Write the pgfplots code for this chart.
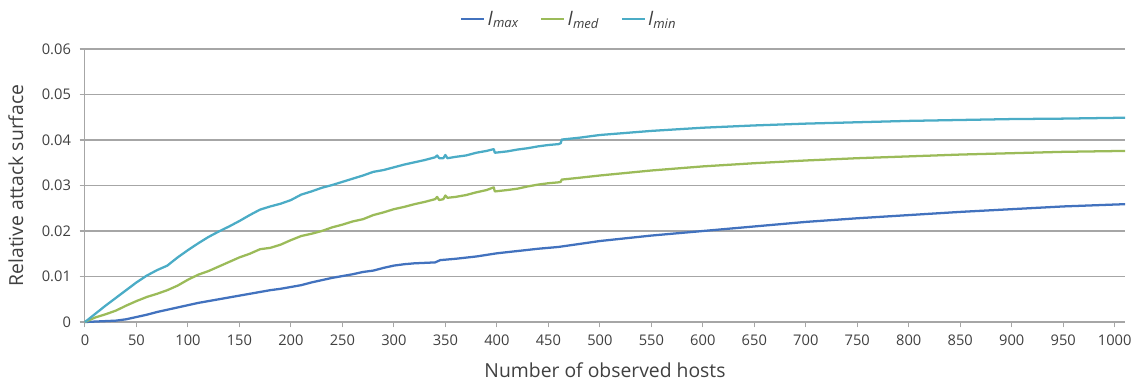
\documentclass[border=0pt]{standalone}
\usepackage{pgfplots}
\pgfplotsset{compat=1.18}
\usepackage{fontspec}
\setmainfont{Open Sans}
\definecolor{cmax}{HTML}{4272BE}
\definecolor{cmed}{HTML}{9BBB59}
\definecolor{cmin}{HTML}{4BACC6}
\definecolor{gridc}{HTML}{A6A6A6}
\definecolor{txt}{HTML}{404040}
\begin{document}
\begin{tikzpicture}
\begin{axis}[
  name=ax,
  scale only axis,
  width=780pt, height=204.75pt,
  xmin=0, xmax=1010, ymin=0, ymax=0.06,
  xtick={0,50,...,1000},
  ytick={0,0.01,...,0.06},
  yticklabels={0,0.01,0.02,0.03,0.04,0.05,0.06},
  scaled y ticks=false,
  /pgf/number format/assume math mode=true,
  /pgf/number format/set thousands separator={},
  axis x line*=bottom, axis y line*=left,
  axis line style={gridc, line width=0.8pt, -},
  ymajorgrids, major grid style={gridc, line width=0.8pt},
  tick style={gridc, line width=0.8pt},
  xtick align=outside, ytick align=outside,
  major tick length=4pt,
  ticklabel style={font=\fontsize{11}{13}\selectfont, text=txt},
  yticklabel style={xshift=-3pt},
  xticklabel style={yshift=-2pt},
  xlabel={Number of observed hosts},
  ylabel={Relative attack surface},
  label style={font=\fontsize{14.5}{16}\selectfont, text=txt},
  xlabel style={yshift=-6pt},
  ylabel style={yshift=7pt},
  legend style={at={(0.466,1.11)}, anchor=center, draw=none, fill=none,
    legend columns=3, font=\fontsize{14}{16}\selectfont, text=txt,
    /tikz/every even column/.append style={column sep=14pt}},
  legend cell align=left,
  legend image post style={line width=1.6pt},
  clip=false,
  every axis plot/.append style={line width=1.7pt, line join=round},
]
\addplot[cmax, no marks] coordinates {
(0,0) (10,0.0001) (20,0.0002) (30,0.0003) (40,0.0006) (50,0.0011) (60,0.0016) (70,0.0022) (80,0.0027) (90,0.0032) (100,0.0037) (110,0.0042) (120,0.0046) (130,0.0050) (140,0.0054) (150,0.0058) (160,0.0062) (170,0.0066) (180,0.0070) (190,0.0073) (200,0.0077) (210,0.0081) (220,0.0087) (230,0.0092) (240,0.0097) (250,0.0101) (260,0.0105) (270,0.0110) (280,0.0113) (290,0.0119) (300,0.0124) (310,0.0127) (320,0.0129) (330,0.0130) (340,0.0131) (345,0.0136) (360,0.0139) (380,0.0144) (400,0.0151) (420,0.0156) (440,0.0161) (460,0.0165) (500,0.0178) (550,0.0190) (600,0.0200) (650,0.0210) (700,0.0220) (750,0.0228) (800,0.0235) (850,0.0242) (900,0.0248) (950,0.0254) (1010,0.0259)
};
\addlegendentry{\textit{l}\textsubscript{\textit{max}}}
\addplot[cmed, no marks] coordinates {
(0,0) (10,0.0010) (20,0.0017) (30,0.0025) (40,0.0036) (50,0.0046) (60,0.0055) (70,0.0062) (80,0.0070) (90,0.0080) (100,0.0093) (110,0.0104) (120,0.0112) (130,0.0122) (140,0.0132) (150,0.0142) (160,0.0150) (170,0.0160) (180,0.0163) (190,0.0170) (200,0.0180) (210,0.0189) (220,0.0194) (230,0.0200) (240,0.0208) (250,0.0214) (260,0.0221) (270,0.0226) (280,0.0235) (290,0.0241) (300,0.0248) (310,0.0253) (320,0.0259) (330,0.0264) (340,0.0270) (342,0.0275) (344,0.0268) (348,0.0270) (350,0.0278) (352,0.0273) (360,0.0275) (370,0.0279) (380,0.0285) (390,0.0290) (397,0.0296) (398,0.0287) (410,0.0290) (420,0.0293) (430,0.0298) (440,0.0302) (450,0.0305) (460,0.0307) (462,0.0308) (463,0.0313) (480,0.0317) (500,0.0322) (550,0.0333) (600,0.0342) (650,0.0349) (700,0.0355) (750,0.0360) (800,0.0364) (850,0.0368) (900,0.0371) (950,0.0374) (1010,0.0376)
};
\addlegendentry{\textit{l}\textsubscript{\textit{med}}}
\addplot[cmin, no marks] coordinates {
(0,0) (10,0.0018) (20,0.0036) (30,0.0053) (40,0.0070) (50,0.0087) (60,0.0102) (70,0.0114) (80,0.0124) (90,0.0142) (100,0.0158) (110,0.0173) (120,0.0187) (130,0.0199) (140,0.0210) (150,0.0222) (160,0.0235) (170,0.0247) (180,0.0254) (190,0.0260) (200,0.0268) (210,0.0280) (220,0.0287) (230,0.0295) (240,0.0301) (250,0.0308) (260,0.0315) (270,0.0322) (280,0.0330) (290,0.0334) (300,0.0340) (310,0.0346) (320,0.0351) (330,0.0356) (340,0.0362) (342,0.0366) (344,0.0360) (348,0.0360) (350,0.0367) (352,0.0360) (360,0.0363) (370,0.0366) (380,0.0372) (390,0.0376) (397,0.0380) (398,0.0372) (410,0.0375) (420,0.0379) (430,0.0382) (440,0.0386) (450,0.0389) (460,0.0391) (462,0.0393) (463,0.0401) (480,0.0405) (500,0.0411) (550,0.0420) (600,0.0427) (650,0.0432) (700,0.0436) (750,0.0439) (800,0.0442) (850,0.0444) (900,0.0446) (950,0.0447) (1010,0.0449)
};
\addlegendentry{\textit{l}\textsubscript{\textit{min}}}
\coordinate (bl) at (rel axis cs:-0.0817,-0.2418);
\coordinate (tr) at (rel axis cs:1.0144,1.1795);
\end{axis}
\pgfresetboundingbox
\path[use as bounding box] (bl) rectangle (tr);
\end{tikzpicture}
\end{document}
